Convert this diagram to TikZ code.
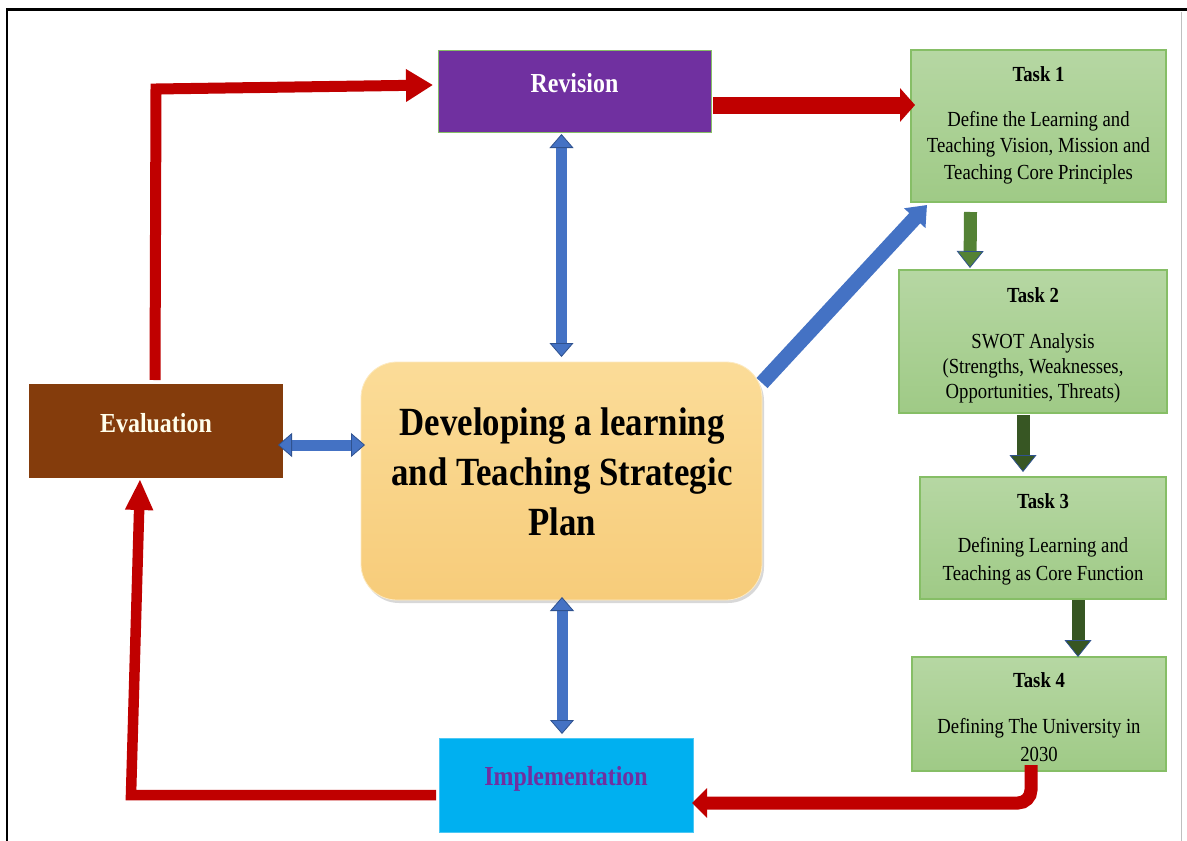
\documentclass[tikz,border=0pt]{standalone}
\usepackage{fontspec}
\setmainfont{Liberation Serif}[FakeStretch=0.87]
\usetikzlibrary{arrows.meta,calc,shadows}
\definecolor{redA}{HTML}{C00000}
\definecolor{blueA}{HTML}{4472C4}
\definecolor{blueD}{HTML}{2F528F}
\definecolor{purpA}{HTML}{7030A0}
\definecolor{brownA}{HTML}{843C0C}
\definecolor{cyanA}{HTML}{00B0F0}
\definecolor{gTop}{HTML}{B6D7A3}
\definecolor{gBot}{HTML}{9FCA86}
\definecolor{gLine}{HTML}{86BE66}
\definecolor{goldTop}{HTML}{FBDC98}
\definecolor{goldBot}{HTML}{F7CC7A}
\definecolor{grnA}{HTML}{548235}
\definecolor{grnD}{HTML}{375623}
\begin{document}
\begin{tikzpicture}[x=1pt,y=-1pt,
  box/.style={anchor=north west, inner sep=0pt, outer sep=0pt},
  taskbox/.style={box, draw=gLine, line width=1.2pt, top color=gTop, bottom color=gBot},
  headtxt/.style={anchor=base, inner sep=0pt, font=\bfseries\fontsize{21.5}{26}\selectfont},
  bodytxt/.style={anchor=base, align=center, inner sep=0pt, font=\fontsize{21.5}{26.5}\selectfont},
  bigtxt/.style={anchor=base, inner sep=0pt, font=\bfseries\fontsize{27.5}{30}\selectfont},
  plantxt/.style={anchor=base, align=center, inner sep=0pt, font=\bfseries\fontsize{40}{50}\selectfont},
  bluedbl/.style={draw=blueA, line width=11pt,
    arrows={Triangle[width=24pt,length=14pt,fill=blueA,color=blueD,line width=0.8pt]-Triangle[width=24pt,length=14pt,fill=blueA,color=blueD,line width=0.8pt]}},
  grnarr/.style={draw=#1, line width=13pt,
    arrows={-Triangle[width=27pt,length=17pt,fill=#1,color=blueD,line width=0.8pt]}}
]
\useasboundingbox (0,0) rectangle (1187,841);
\fill[white] (0,0) rectangle (1187,841);
% frame
\draw[line width=2.2pt] (7,841) -- (7,9.5) -- (1187,9.5);
\draw[black!25, line width=1pt] (1181.5,12) -- (1181.5,841);

% boxes
\node[box, fill=purpA, draw=gLine, line width=0.8pt, minimum width=273pt, minimum height=82pt] (rev) at (438,50) {};
\node[taskbox, minimum width=255pt, minimum height=152pt] (t1) at (911,50) {};
\node[taskbox, minimum width=268pt, minimum height=143pt] (t2) at (899,270) {};
\node[taskbox, minimum width=246pt, minimum height=122pt] (t3) at (920,477) {};
\node[taskbox, minimum width=254pt, minimum height=114pt] (t4) at (912,657) {};
\node[box, fill=brownA, minimum width=254pt, minimum height=94pt] (eval) at (29,384) {};
\node[box, fill=cyanA, draw=cyanA!70, line width=0.8pt, minimum width=254pt, minimum height=94pt] (impl) at (439,738) {};
\node[box, rounded corners=36pt, top color=goldTop, bottom color=goldBot, draw=goldTop!60!white, line width=0.8pt,
  drop shadow={shadow xshift=2pt, shadow yshift=-3pt, opacity=0.3},
  minimum width=401pt, minimum height=238pt] (plan) at (361,362) {};

% texts (multi-line nodes: base = baseline of the last line)
\node[bigtxt, text=white] (revT) at (574.5,92) {Revision};
\node[bigtxt, text=white!92!yellow] (evalT) at (156,432) {Evaluation};
\node[bigtxt, text=purpA] (implT) at (566,785) {Implementation};
\node[plantxt] (planT) at (562,535) {Developing a learning\\and Teaching Strategic\\Plan};

\node[headtxt] (t1h) at (1038.5,81) {Task 1};
\node[bodytxt] (t1b) at (1038.5,179) {Define the Learning and\\Teaching Vision, Mission and\\Teaching Core Principles};
\node[headtxt] (t2h) at (1033,302) {Task 2};
\node[bodytxt, font=\fontsize{21.5}{25}\selectfont] (t2b) at (1033,398) {SWOT Analysis\\(Strengths, Weaknesses,\\Opportunities, Threats)};
\node[headtxt] (t3h) at (1043,508) {Task 3};
\node[bodytxt, font=\fontsize{21.5}{28}\selectfont] (t3b) at (1043,580) {Defining Learning and\\Teaching as Core Function};
\node[headtxt] (t4h) at (1039,687) {Task 4};
\node[bodytxt, font=\fontsize{21.5}{28}\selectfont] (t4b) at (1039,761) {Defining The University in\\2030};

% red connectors
\coordinate (c1) at (156,89);
\draw[redA, line width=11pt, line join=miter, -{Triangle[width=31pt,length=27pt]}]
  ($(eval.north)+(-1,-4)$) -- (c1) -- ($(rev.west)+(-5,-6)$);
\draw[redA, line width=17pt, -{Triangle[width=33pt,length=15pt]}]
  ($(rev.east)+(2,14)$) -- ($(t1.west)+(4,-21)$);
\draw[redA, line width=13pt, rounded corners=13pt, -{Triangle[width=29pt,length=15pt]}]
  ($(t4.south)+(-8,-6)$) |- ($(impl.east)+(-1,18)$);
\coordinate (c2) at (131,795);
\draw[redA, line width=10.5pt, line join=miter, -{Triangle[width=26pt,length=31pt]}]
  ($(impl.west)+(-3,10)$) -- (c2) -- ($(eval.south)+(-16,1)$);

% blue connectors
\draw[bluedbl] ($(rev.south)+(-13,2)$) -- ($(plan.north)+(0,-5)$);
\draw[bluedbl] ($(plan.south)+(0.5,-3)$) -- ($(impl.north)+(-4,-4)$);
\draw[bluedbl] ($(eval.east)+(-5,14)$) -- ($(plan.west)+(4,-36)$);
\coordinate (dtail) at (762,383);
\draw[blueA, line width=15pt, -{Triangle[width=28pt,length=18pt]}]
  (dtail) -- ($(t1.south west)+(16,3)$);

% green connectors
\draw[grnarr=grnA] ($(t1.south)+(-68,10)$) -- ($(t2.north)+(-63,-2)$);
\draw[grnarr=grnD] ($(t2.south)+(-10,2)$) -- ($(t3.north)+(-20,-5)$);
\draw[grnarr=grnD] ($(t3.south)+(35,1)$) -- ($(t4.north)+(39,0)$);
\end{tikzpicture}
\end{document}
